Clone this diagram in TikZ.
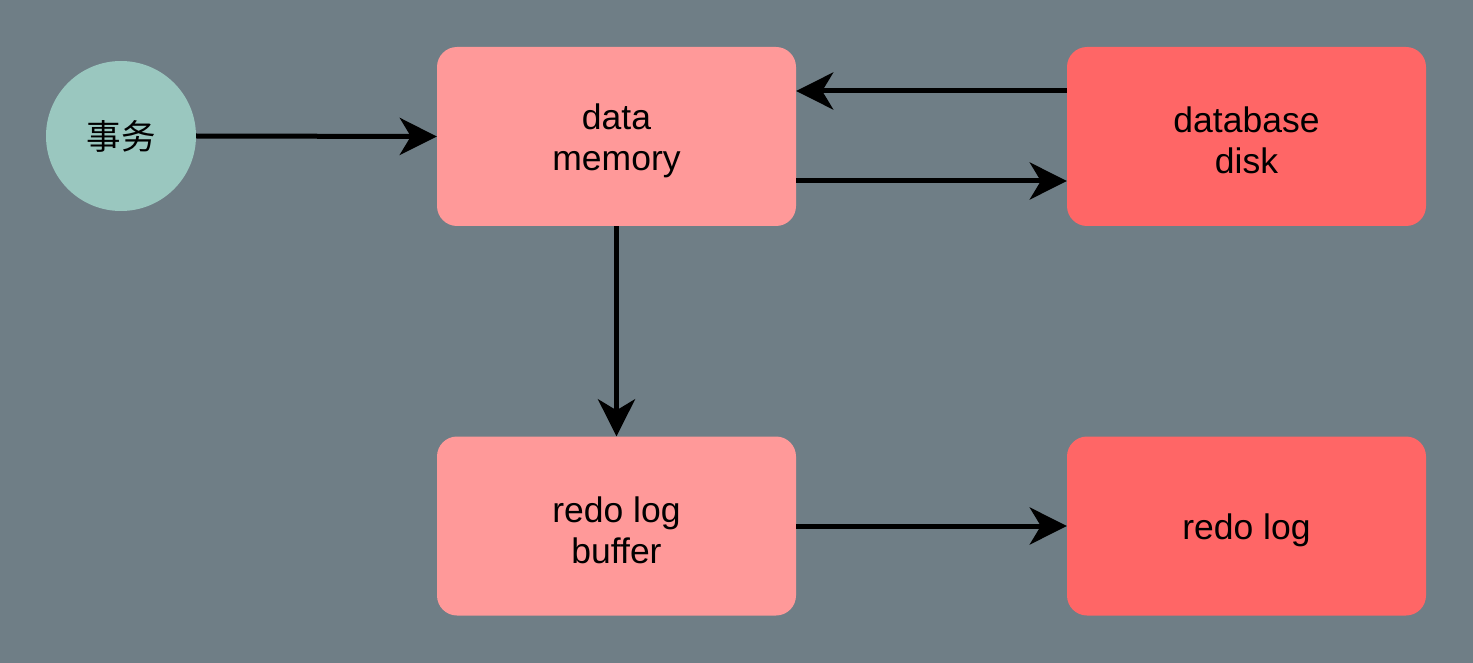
\documentclass[tikz,border=0pt]{standalone}
\usepackage{fontspec}
\setmainfont{Liberation Sans}
\newfontfamily\cjk{Noto Sans CJK SC}
\usetikzlibrary{arrows.meta}
\definecolor{bgc}{HTML}{6F7E86}
\definecolor{lightred}{HTML}{FF9999}
\definecolor{darkred}{HTML}{FF6666}
\definecolor{teal}{HTML}{9AC7BF}
\newcommand{\lowertxt}[1]{\raisebox{-4pt}[\dimexpr\height+4pt\relax][\dimexpr\depth+4pt\relax]{#1}}
\tikzset{
  box/.style={rounded corners=20pt, minimum width=359pt, minimum height=179pt, align=center, inner sep=0pt, font=\fontsize{35.5}{41}\selectfont},
  lbox/.style={box, fill=lightred},
  dbox/.style={box, fill=darkred},
  conn/.style={line width=5pt, -{Stealth[length=37pt, width=37pt, inset=11pt]}},
}
\begin{document}
\begin{tikzpicture}[x=1pt,y=-1pt]
\fill[bgc] (0,0) rectangle (1473,663);
\useasboundingbox (0,0) rectangle (1473,663);
\node[circle, fill=teal, minimum size=150pt, inner sep=0pt, font=\cjk\fontsize{34.5}{40}\selectfont] (tx) at (121,136) {事务};
\node[lbox] (mem) at (616.5,136.5) {\lowertxt{\parbox{300pt}{\centering data\\memory}}};
\node[dbox] (disk) at (1246.5,136.5) {\lowertxt{\parbox{300pt}{\centering database\\disk}}};
\node[lbox] (buf) at (616.5,526) {\lowertxt{\parbox{300pt}{\centering redo log\\buffer}}};
\node[dbox] (rlog) at (1246.5,526) {\lowertxt{redo log}};
\draw[conn] (tx.east) -- (mem.west);
\draw[conn] (disk.west |- 0,91) -- (mem.east |- 0,91);
\draw[conn] (mem.east |- 0,181) -- (disk.west |- 0,181);
\draw[conn] (mem.south) -- (buf.north);
\draw[conn] (buf.east) -- (rlog.west);
\end{tikzpicture}
\end{document}
